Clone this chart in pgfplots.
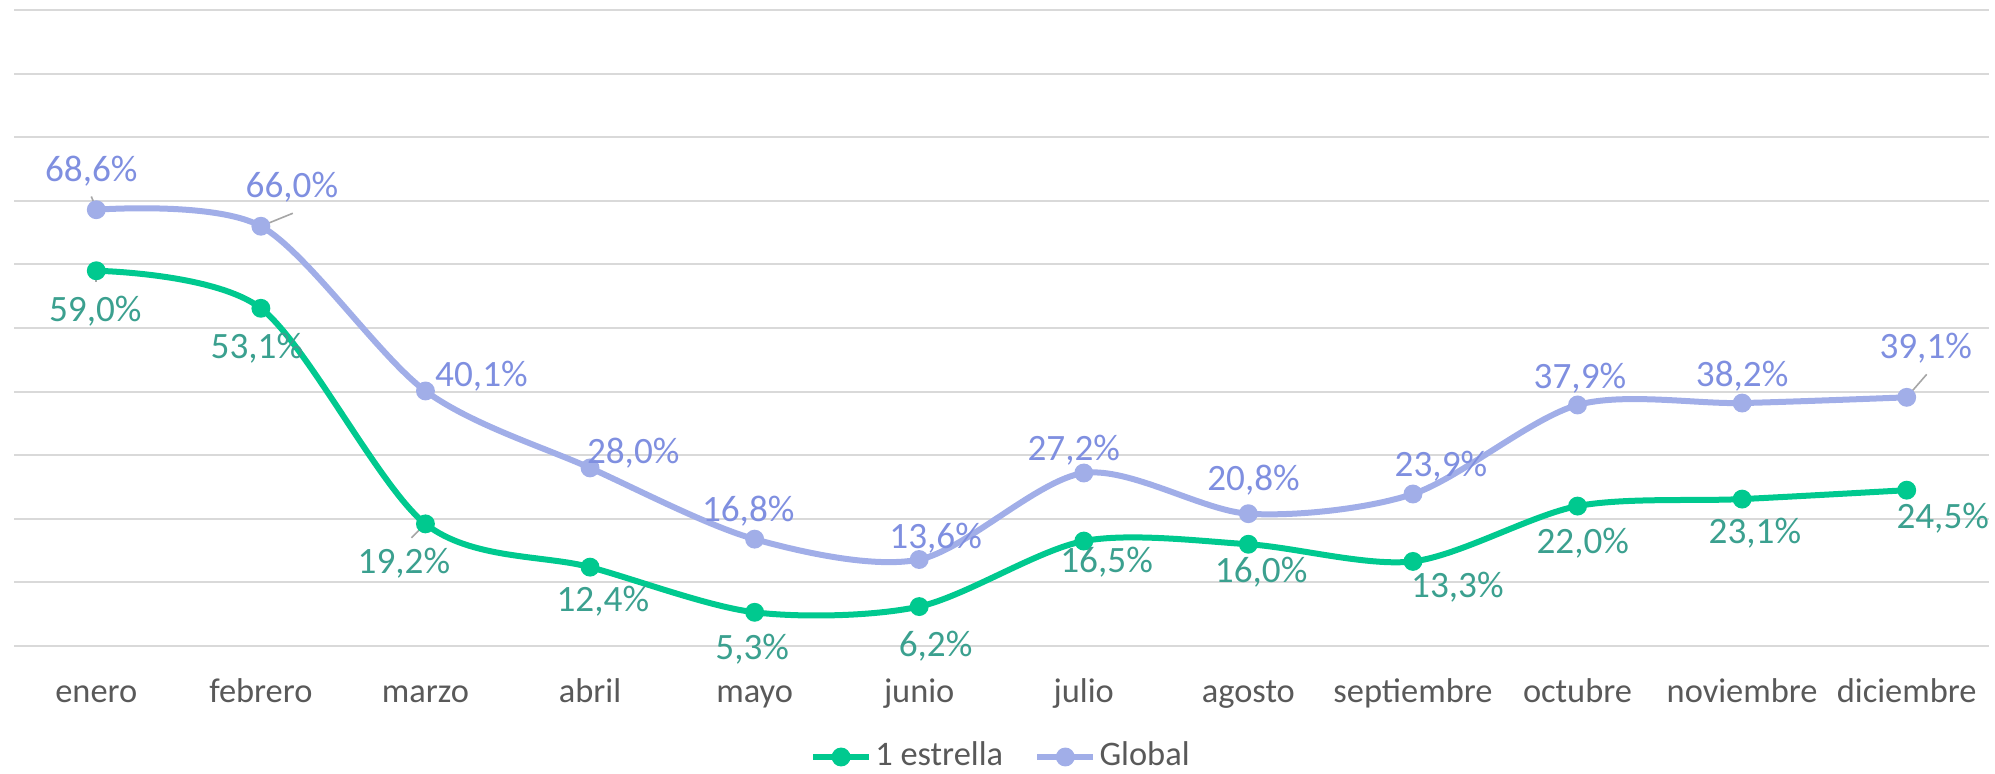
\documentclass[border=0pt]{standalone}
\usepackage{fontspec}
\setmainfont{Carlito}
\usepackage{pgfplots}
\usepackage{pgfplotstable}
\pgfplotsset{compat=1.18}
\definecolor{gline}{HTML}{00C98F}
\definecolor{glab}{HTML}{3BA08F}
\definecolor{pline}{HTML}{A1AEE8}
\definecolor{plab}{HTML}{7F8FE0}
\definecolor{txt}{HTML}{595959}
\definecolor{grd}{HTML}{D9D9D9}
\definecolor{lead}{HTML}{A6A6A6}

\pgfplotstableread{
x y lab dx dy
0 59.0 59,0 -0.25 -10.1
1 53.1 53,1 -1.0 -9.9
2 19.2 19,2 -5.4 -9.9
3 12.4 12,4 3.2 -8.6
4 5.3 5,3 -0.6 -9.2
5 6.2 6,2 4.1 -9.9
6 16.5 16,5 5.7 -5.4
7 16.0 16,0 3.2 -7.0
8 13.3 13,3 11.1 -6.4
9 22.0 22,0 1.3 -9.2
10 23.1 23,1 3.2 -8.6
11 24.5 24,5 9.0 -7.0
}\tgreen

\pgfplotstableread{
x y lab dx dy
0 68.6 68,6 -1.25 9.75
1 66.0 66,0 7.75 9.75
2 40.1 40,1 14.0 3.8
3 28.0 28,0 10.8 3.8
4 16.8 16,8 -1.6 7.0
5 13.6 13,6 4.1 5.4
6 27.2 27,2 -2.5 5.7
7 20.8 20,8 1.3 8.3
8 23.9 23,9 7.0 7.0
9 37.9 37,9 0.6 6.7
10 38.2 38,2 0.0 6.7
11 39.1 39,1 4.75 12.25
}\tglobal

\begin{document}
\begin{tikzpicture}
\begin{axis}[
  scale only axis,
  width=493.75pt, height=159pt,
  xmin=-0.5, xmax=11.5,
  ymin=0, ymax=100,
  ytick={0,10,...,100},
  yticklabels={},
  xtick={0,...,11},
  xticklabels={enero,febrero,marzo,abril,mayo,junio,julio,agosto,septiembre,octubre,noviembre,diciembre},
  xticklabel style={font=\fontsize{8.6}{10}\selectfont, text=txt, anchor=base, yshift=-14pt},
  major tick length=0pt,
  ymajorgrids,
  grid style={grd, line width=0.5pt},
  axis line style={draw=none},
  clip=false,
  legend columns=2,
  legend style={draw=none, fill=none, at={(0.5,0)}, anchor=center, yshift=-27.75pt,
    font=\fontsize{8.6}{10}\selectfont, text=txt, inner sep=0pt,
    nodes={inner xsep=0.8pt, inner ysep=1pt},
    /tikz/every even column/.append style={column sep=7pt}},
  legend image code/.code={\draw[mark repeat=2,mark phase=2] plot coordinates {(0pt,0pt) (7pt,0pt) (14pt,0pt)};},
]
\addplot[gline, line width=1.5pt, smooth, mark=*, mark size=1.6pt, mark options={fill=gline, draw=gline},
  point meta=explicit symbolic,
  visualization depends on={\thisrow{dx} \as \dx},
  visualization depends on={\thisrow{dy} \as \dy},
  nodes near coords={\pgfplotspointmeta\%},
  nodes near coords style={text=glab, anchor=center, inner sep=0pt, font=\fontsize{9.3}{11}\selectfont, xshift=\dx pt, yshift=\dy pt}]
  table[x=x, y=y, meta=lab] {\tgreen};
\addlegendentry{1 estrella}
\addplot[pline, line width=1.5pt, smooth, mark=*, mark size=1.6pt, mark options={fill=pline, draw=pline},
  point meta=explicit symbolic,
  visualization depends on={\thisrow{dx} \as \dx},
  visualization depends on={\thisrow{dy} \as \dy},
  nodes near coords={\pgfplotspointmeta\%},
  nodes near coords style={text=plab, anchor=center, inner sep=0pt, font=\fontsize{9.3}{11}\selectfont, xshift=\dx pt, yshift=\dy pt}]
  table[x=x, y=y, meta=lab] {\tglobal};
\addlegendentry{Global}
\draw[lead, line width=0.4pt] (axis cs:0,68.6) ++(0pt,0.3pt) -- ++(-1.25pt,3pt);
\draw[lead, line width=0.4pt] (axis cs:1,66.0) -- ++(8pt,3.25pt);
\draw[lead, line width=0.4pt] (axis cs:0,59.0) -- ++(0pt,-2.75pt);
\draw[lead, line width=0.4pt] (axis cs:2,19.2) ++(-1pt,-1pt) -- ++(-2.5pt,-2.5pt);
\draw[lead, line width=0.4pt] (axis cs:11,39.1) -- ++(5pt,5.75pt);
\end{axis}
\coordinate (tr) at ([shift={(1.5pt,2.5pt)}]current axis.north east);
\coordinate (bl) at ([shift={(-3.5pt,-31.75pt)}]current axis.south west);
\pgfresetboundingbox
\useasboundingbox (bl) rectangle (tr);
\end{tikzpicture}
\end{document}
